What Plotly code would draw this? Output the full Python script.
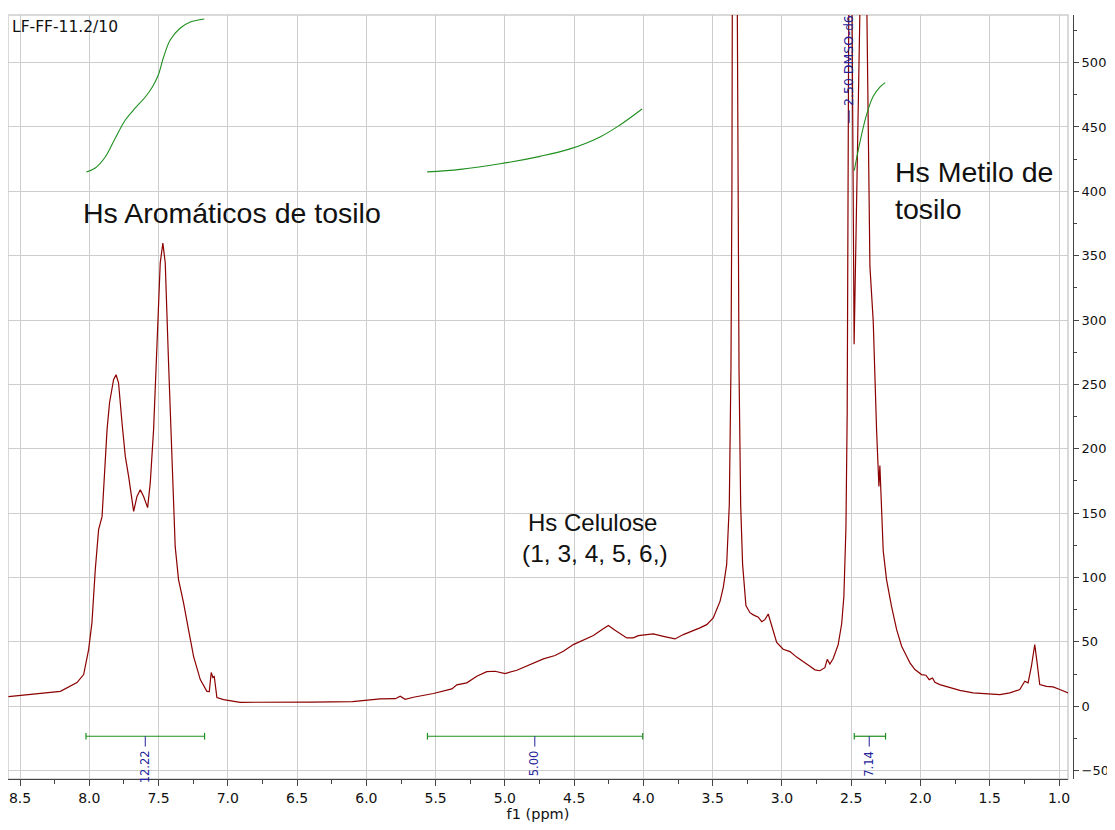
import plotly.graph_objects as go

# ---------------- data ----------------
ppm = [8.584, 8.426, 8.281, 8.209, 8.089, 8.041, 8.005, 7.981, 7.957, 7.933,
       7.908, 7.897, 7.872, 7.854, 7.825, 7.807, 7.789, 7.764, 7.740, 7.716,
       7.680, 7.656, 7.632, 7.608, 7.579, 7.560, 7.536, 7.512, 7.488, 7.469,
       7.452, 7.428, 7.404, 7.380, 7.356, 7.320, 7.284, 7.247, 7.199, 7.151,
       7.134, 7.120, 7.108, 7.098, 7.079, 7.031, 6.911, 6.70, 6.40, 6.10,
       5.900, 5.790, 5.756, 5.720, 5.660, 5.516, 5.383, 5.347, 5.275, 5.203,
       5.131, 5.071, 4.999, 4.914, 4.818, 4.722, 4.638, 4.578, 4.506, 4.434,
       4.361, 4.301, 4.253, 4.205, 4.120, 4.073, 4.037, 3.976, 3.929, 3.856,
       3.772, 3.712, 3.652, 3.592, 3.543, 3.496, 3.471, 3.447, 3.4235, 3.399,
       3.380, 3.368, 3.361, 3.356, 3.340, 3.323, 3.317, 3.310, 3.298, 3.284,
       3.260, 3.231, 3.207, 3.171, 3.146, 3.123, 3.099, 3.074, 3.038, 2.991,
       2.942, 2.894, 2.846, 2.798, 2.762, 2.726, 2.690, 2.673, 2.654, 2.630,
       2.594, 2.569, 2.553, 2.538, 2.529, 2.522, 2.517, 2.508, 2.495, 2.479,
       2.434, 2.415, 2.389, 2.365, 2.341, 2.317, 2.300, 2.293, 2.281, 2.269,
       2.245, 2.209, 2.172, 2.136, 2.100, 2.076, 2.040, 1.992, 1.961, 1.937,
       1.913, 1.896, 1.860, 1.788, 1.716, 1.620, 1.499, 1.427, 1.355, 1.283,
       1.247, 1.223, 1.199, 1.175, 1.158, 1.139, 1.090, 1.043, 0.994, 0.934]
intensity = [7.5, 9.1, 10.6, 11.6, 18.4, 24.6, 44.0, 65.0, 106.1, 137.2,
             147.3, 168.3, 214.9, 235.8, 253.7, 257.5, 251.3, 220.3, 193.9, 178.4,
             151.4, 163.0, 168.2, 163.0, 154.3, 173.7, 214.9, 279.5, 344.5, 359.8,
             344.5, 266.8, 189.2, 124.0, 98.4, 80.5, 59.5, 38.6, 20.7, 11.6,
             11.4, 26.2, 22.3, 23.1, 6.8, 5.2, 3.1, 3.0, 3.2, 3.6,
             5.7, 5.9, 7.8, 5.4, 7.0, 9.9, 13.5, 16.6, 18.2, 23.3,
             26.9, 27.2, 25.4, 28.0, 32.4, 36.8, 39.4, 42.7, 47.9, 51.2,
             54.9, 59.5, 62.7, 59.0, 53.1, 53.1, 54.9, 55.7, 56.2, 54.3,
             52.3, 55.7, 58.2, 60.9, 63.4, 68.6, 75.1, 81.5, 92.4, 110.2,
             156.6, 263.5, 406, 560, 1500, 560, 406, 263, 156.6, 110.2,
             78.2, 72.7, 71.0, 69.2, 65.7, 67.3, 71.7, 62.1, 49.6, 44.3,
             42.5, 38.2, 34.3, 31.1, 28.3, 27.6, 30.0, 36.4, 32.8, 37.1,
             47.9, 63.9, 85.2, 138.7, 227.9, 406, 560, 1200, 560, 281.3,
             560, 1100, 560, 341.9, 299, 215, 170.8, 187, 160, 120.9,
             98.4, 77.6, 59.5, 46.6, 38.8, 33.7, 28.5, 24.6, 24.1, 20.7,
             22.0, 18.6, 16.8, 14.3, 12.4, 10.4, 9.3, 9.1, 10.4, 13.0,
             19.4, 18.2, 31.1, 47.9, 33.7, 16.8, 15.5, 15.1, 13.0, 10.4]

# integral curves
int1_ppm = [8.022, 7.957, 7.885, 7.812, 7.740, 7.668, 7.596, 7.545, 7.502, 7.466, 7.416, 7.343, 7.271, 7.170]
int1_val = [415.1, 418.2, 426.7, 441.5, 455.4, 464.8, 473.3, 481.1, 490.4, 503.6, 517.6, 526.9, 531.6, 533.9]
int2_ppm = [5.561, 5.323, 5.035, 4.746, 4.530, 4.313, 4.169, 4.010]
int2_val = [415.1, 417.1, 421.4, 427.2, 433.0, 442.3, 451.6, 464.0]
int3_ppm = [2.478, 2.437, 2.389, 2.341, 2.293, 2.255]
int3_val = [416.1, 438.2, 459.6, 473.8, 481.0, 484.5]

# integration ranges and values
int_start = [8.024, 5.559, 2.478]
int_end = [7.168, 4.005, 2.252]
int_label_pos = [7.596, 4.784, 2.370]
int_labels = ["12.22", "5.00", "7.14"]
bracket_level = -23.3

peak_label_text = "2.50 DMSO-d6"

x_ticks = [8.5, 8.0, 7.5, 7.0, 6.5, 6.0, 5.5, 5.0, 4.5, 4.0, 3.5, 3.0, 2.5, 2.0, 1.5, 1.0]
y_ticks = [-50, 0, 50, 100, 150, 200, 250, 300, 350, 400, 450, 500]

# ---------------- figure ----------------
RED = "#8B0000"
GREEN = "#1f8f1f"
NAVY = "#23239a"
GRID = "#cdcdcd"
TICKFONT = "DejaVu Sans"
LABELFONT = "Liberation Sans"

fig = go.Figure()

fig.add_trace(go.Scatter(x=ppm, y=intensity, mode="lines",
                         line=dict(color=RED, width=1.2), hoverinfo="skip"))
for xs, ys in [(int1_ppm, int1_val), (int2_ppm, int2_val), (int3_ppm, int3_val)]:
    fig.add_trace(go.Scatter(x=xs, y=ys, mode="lines", line=dict(color=GREEN, width=1.1,
                             shape="spline"), hoverinfo="skip"))

shapes = []
shapes.append(dict(type="rect", xref="x domain", yref="y domain", x0=0, x1=1, y0=0, y1=1,
                   line=dict(color=GRID, width=1.5), layer="below"))
for s, e, lp, lab in zip(int_start, int_end, int_label_pos, int_labels):
    shapes.append(dict(type="line", xref="x", yref="y", x0=s, x1=e, y0=bracket_level, y1=bracket_level,
                       line=dict(color=GREEN, width=1.2)))
    for xe in (s, e):
        shapes.append(dict(type="line", xref="x", yref="y", x0=xe, x1=xe,
                           y0=bracket_level - 2.6, y1=bracket_level + 2.6,
                           line=dict(color=GREEN, width=1.2)))
    shapes.append(dict(type="line", xref="x", yref="y", x0=lp, x1=lp,
                       y0=bracket_level, y1=bracket_level - 8,
                       line=dict(color=NAVY, width=1)))
    fig.add_annotation(x=lp, y=bracket_level - 9.5, xref="x", yref="y", text=lab,
                       textangle=-90, showarrow=False, xanchor="center", yanchor="top",
                       font=dict(family=TICKFONT, size=11.5, color=NAVY))

# DMSO peak label
shapes.append(dict(type="line", xref="x", yref="y", x0=2.515, x1=2.515, y0=463.0, y1=453.0,
                   line=dict(color=NAVY, width=1)))
fig.add_annotation(x=2.515, y=464.5, xref="x", yref="y", text=peak_label_text, textangle=-90,
                   showarrow=False, xanchor="center", yanchor="bottom",
                   font=dict(family=TICKFONT, size=12.5, color=NAVY))

# text labels
fig.add_annotation(x=0.002, y=0.999, xref="paper", yref="paper", text="LF-FF-11.2/10",
                   showarrow=False, xanchor="left", yanchor="top",
                   font=dict(family=TICKFONT, size=15.5, color="#111"))
fig.add_annotation(x=6.968, y=383, xref="x", yref="y", text="Hs Aromáticos de tosilo",
                   showarrow=False, xanchor="center", yanchor="middle",
                   font=dict(family=LABELFONT, size=28.5, color="#111"))
fig.add_annotation(x=4.371, y=142.6, xref="x", yref="y", text="Hs Celulose",
                   showarrow=False, xanchor="center", yanchor="middle",
                   font=dict(family=LABELFONT, size=24, color="#111"))
fig.add_annotation(x=4.346, y=118.5, xref="x", yref="y", text="(1, 3, 4, 5, 6,)",
                   showarrow=False, xanchor="center", yanchor="middle",
                   font=dict(family=LABELFONT, size=24.5, color="#111"))
fig.add_annotation(x=2.20, y=401, xref="x", yref="y", text="Hs Metilo de<br>tosilo",
                   showarrow=False, xanchor="left", yanchor="middle", align="left",
                   font=dict(family=LABELFONT, size=28.5, color="#111"))

fig.update_layout(
    width=1107, height=822,
    margin=dict(l=0, r=42, t=7, b=51, autoexpand=False),
    paper_bgcolor="white", plot_bgcolor="white",
    showlegend=False,
    shapes=shapes,
    xaxis=dict(range=[8.587, 0.935], domain=[0, 1060 / 1065], tickmode="array", tickvals=x_ticks,
               ticktext=[f"{v:.1f}" for v in x_ticks],
               showgrid=True, gridcolor=GRID, gridwidth=1, zeroline=False,
               showline=True, linecolor="#444", linewidth=1,
               ticks="outside", ticklen=6, tickcolor="#444",
               minor=dict(dtick=0.25, tick0=0, ticks="outside", ticklen=4, tickcolor="#444", showgrid=False),
               tickfont=dict(family=TICKFONT, size=14, color="#111"),
               title=dict(text="f1 (ppm)", font=dict(family=TICKFONT, size=14.5, color="#111"), standoff=4)),
    yaxis=dict(range=[-56.5, 537], side="right", anchor="free", position=1.0,
               tickmode="array", tickvals=y_ticks,
               showgrid=True, gridcolor=GRID, gridwidth=1, zeroline=False,
               showline=True, linecolor="#444", linewidth=1,
               ticks="outside", ticklen=5, tickcolor="#444",
               minor=dict(dtick=25, tick0=0, ticks="outside", ticklen=3, tickcolor="#444", showgrid=False),
               tickfont=dict(family=TICKFONT, size=13, color="#111")),
)

fig.write_html("out.html")
